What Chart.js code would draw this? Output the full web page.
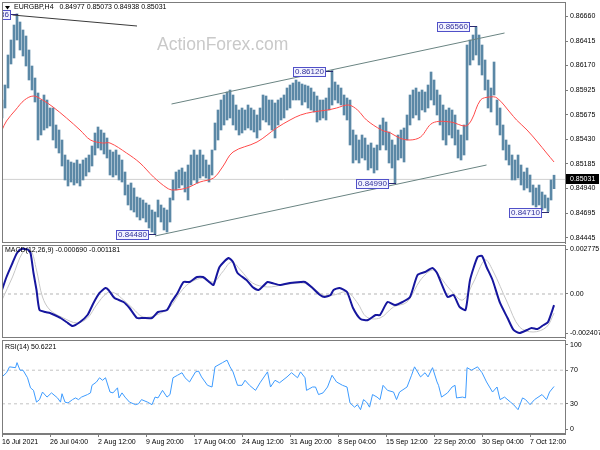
<!DOCTYPE html>
<html>
<head>
<meta charset="utf-8">
<title>EURGBP H4</title>
<script src="https://cdn.jsdelivr.net/npm/chart.js@4/dist/chart.umd.min.js"></script>
<style>
  html, body { margin: 0; padding: 0; background: #fff; }
  #wrap { position: relative; width: 600px; height: 450px; overflow: hidden; }
  canvas { position: absolute; left: 0; }
</style>
</head>
<body>
<div id="wrap">
  <canvas id="c-price" width="600" height="244" style="top:0px"></canvas>
  <canvas id="c-macd" width="600" height="95" style="top:244px"></canvas>
  <canvas id="c-rsi" width="600" height="111" style="top:339px"></canvas>
</div>
<script>
/* EURGBP H4 – price bars + SMA, MACD, RSI */
(() => {
  "use strict";

  // ---- data ----
  const SYMBOL = "EURGBP,H4";
  const LAST_BAR = [0.84977, 0.85073, 0.84938, 0.85031]; // O H L C
  const BARS_PER_SAMPLE = 2; // every drawn bar covers two H4 periods

  const HIGH = [
    0.85825, 0.85975, 0.86275, 0.86425, 0.86575, 0.86686, 0.86605, 0.86525, 0.86465, 0.86325,
    0.86165, 0.86045, 0.85895, 0.85825, 0.85875, 0.85825, 0.85745, 0.85745, 0.85575, 0.85525,
    0.85425, 0.85275, 0.85225, 0.85205, 0.85195, 0.85225, 0.85185, 0.85225, 0.85245, 0.85275,
    0.85365, 0.85495, 0.85555, 0.85525, 0.85495, 0.85445, 0.85325, 0.85305, 0.85325, 0.85275,
    0.85225, 0.85105, 0.84975, 0.84995, 0.84945, 0.84855, 0.84845, 0.84825, 0.84795, 0.84775,
    0.84725, 0.84705, 0.84825, 0.84775, 0.84745, 0.84725, 0.84845, 0.85025, 0.85105, 0.85125,
    0.85145, 0.85105, 0.85175, 0.85275, 0.85325, 0.85275, 0.85325, 0.85275, 0.85225, 0.85175,
    0.85325, 0.85595, 0.85725, 0.85825, 0.85875, 0.85905, 0.85925, 0.85875, 0.85775, 0.85725,
    0.85745, 0.85725, 0.85775, 0.85745, 0.85725, 0.85675, 0.85745, 0.85875, 0.85865, 0.85825,
    0.85825, 0.85795, 0.85825, 0.85845, 0.85875, 0.85945, 0.85975, 0.85995, 0.86025, 0.86005,
    0.85985, 0.85975, 0.85965, 0.85945, 0.85905, 0.85865, 0.85825, 0.85825, 0.85845, 0.85945,
    0.86120, 0.86005, 0.85975, 0.85945, 0.85875, 0.85845, 0.85825, 0.85525, 0.85475, 0.85425,
    0.85475, 0.85445, 0.85375, 0.85395, 0.85345, 0.85375, 0.85575, 0.85645, 0.85605, 0.85505,
    0.85425, 0.85375, 0.85475, 0.85525, 0.85545, 0.85675, 0.85875, 0.85925, 0.85945, 0.85905,
    0.85925, 0.85905, 0.85975, 0.86105, 0.86025, 0.85925, 0.85875, 0.85775, 0.85725, 0.85745,
    0.85725, 0.85675, 0.85525, 0.85475, 0.85575, 0.86375, 0.86425, 0.86475, 0.86560, 0.86475,
    0.86375, 0.86225, 0.86025, 0.85945, 0.86205, 0.85825, 0.85745, 0.85575, 0.85425, 0.85375,
    0.85275, 0.85225, 0.85275, 0.85175, 0.85105, 0.85145, 0.85075, 0.84975, 0.84945, 0.84975,
    0.84905, 0.84875, 0.84845, 0.85025, 0.85073
  ];
  const LOW = [
    0.85645, 0.85745, 0.85945, 0.86185, 0.86245, 0.86425, 0.86325, 0.86265, 0.86165, 0.86025,
    0.85925, 0.85805, 0.85425, 0.85475, 0.85525, 0.85545, 0.85565, 0.85425, 0.85345, 0.85295,
    0.85165, 0.85025, 0.84965, 0.85005, 0.84975, 0.84995, 0.84965, 0.85025, 0.85065, 0.85105,
    0.85165, 0.85275, 0.85345, 0.85325, 0.85285, 0.85245, 0.85075, 0.85055, 0.85075, 0.85025,
    0.85005, 0.84875, 0.84775, 0.84725, 0.84705, 0.84655, 0.84625, 0.84645, 0.84605, 0.84545,
    0.84505, 0.84480, 0.84655, 0.84605, 0.84525, 0.84505, 0.84605, 0.84825, 0.84925, 0.84945,
    0.84975, 0.84905, 0.84825, 0.84975, 0.85025, 0.84995, 0.85045, 0.85065, 0.85045, 0.85005,
    0.85075, 0.85325, 0.85425, 0.85525, 0.85575, 0.85625, 0.85645, 0.85575, 0.85525, 0.85475,
    0.85495, 0.85525, 0.85545, 0.85525, 0.85505, 0.85445, 0.85525, 0.85625, 0.85605, 0.85575,
    0.85525, 0.85445, 0.85575, 0.85625, 0.85645, 0.85725, 0.85745, 0.85825, 0.85825, 0.85825,
    0.85775, 0.85805, 0.85745, 0.85725, 0.85705, 0.85605, 0.85625, 0.85645, 0.85625, 0.85725,
    0.85775, 0.85825, 0.85795, 0.85775, 0.85675, 0.85625, 0.85375, 0.85195, 0.85225, 0.85195,
    0.85245, 0.85225, 0.85125, 0.85145, 0.85095, 0.85125, 0.85325, 0.85375, 0.85325, 0.85195,
    0.85145, 0.84990, 0.85225, 0.85245, 0.85205, 0.85425, 0.85575, 0.85645, 0.85675, 0.85625,
    0.85725, 0.85705, 0.85745, 0.85825, 0.85775, 0.85675, 0.85575, 0.85425, 0.85375, 0.85475,
    0.85445, 0.85375, 0.85245, 0.85225, 0.85275, 0.85425, 0.86175, 0.86225, 0.86275, 0.86175,
    0.86075, 0.85925, 0.85745, 0.85705, 0.85875, 0.85575, 0.85475, 0.85325, 0.85225, 0.85175,
    0.85025, 0.85025, 0.85045, 0.84975, 0.84925, 0.84945, 0.84905, 0.84775, 0.84755, 0.84775,
    0.84725, 0.84745, 0.84710, 0.84825, 0.84938
  ];

  // moving average (red), by H4 bar index
  const MA_IDX = [0, 3, 9, 15, 21, 27, 34, 43, 52, 59, 67, 72, 83, 92, 101, 110, 114, 123, 132, 141,
    147, 154, 170, 183, 192, 199, 207, 217, 223, 231, 237, 243, 253, 259, 265, 272, 279, 287, 299, 309,
    313, 319, 325, 330, 339, 343, 350, 357, 363, 368];
  const MA_VAL = [0.85525, 0.85615, 0.85725, 0.85825, 0.85865, 0.85825, 0.85755, 0.85645, 0.85525, 0.85425,
    0.85395, 0.85395, 0.85295, 0.85195, 0.85055, 0.84945, 0.84925, 0.84945, 0.85005, 0.85045,
    0.85155, 0.85305, 0.85405, 0.85545, 0.85625, 0.85675, 0.85705, 0.85725, 0.85745, 0.85775,
    0.85725, 0.85625, 0.85525, 0.85495, 0.85445, 0.85425, 0.85455, 0.85595, 0.85605, 0.85565,
    0.85625, 0.85825, 0.85855, 0.85845, 0.85695, 0.85625, 0.85525, 0.85405, 0.85295, 0.85205];

  // trend lines and marked extremes
  const TL_TOP_IDX = [7, 90], TL_TOP_PRICE = [0.86675, 0.86565];
  const CH_UP_IDX = [113, 335], CH_UP_PRICE = [0.85785, 0.86495];
  const CH_DN_IDX = [102, 323], CH_DN_PRICE = [0.84465, 0.85175];
  const PEAK_IDX = [10, 102, 220, 262, 316, 364];
  const PEAK_PRICE = [0.86686, 0.84480, 0.86120, 0.84990, 0.86560, 0.84710];
  const PRICE_TICKS = [0.86660, 0.86415, 0.86170, 0.85925, 0.85675, 0.85430, 0.85185, 0.84940, 0.84695, 0.84445];

  // MACD(12,26,9)
  const MACD_IDX = [0, 3, 7, 10, 13, 17, 19, 21, 23, 25, 29, 32, 35, 39, 43, 47, 52, 57, 61, 65,
    69, 71, 75, 81, 85, 90, 94, 100, 104, 110, 113, 117, 121, 125, 130, 134, 139, 141, 145, 151,
    154, 157, 163, 167, 171, 177, 180, 185, 192, 199, 202, 207, 212, 215, 219, 221, 225, 230, 234, 239,
    244, 249, 252, 257, 262, 267, 272, 277, 282, 287, 290, 297, 301, 305, 309, 312, 317, 320, 323, 327,
    332, 337, 341, 345, 350, 353, 357, 361, 364, 368];
  const MACD_VAL = [0.000247, 0.001049, 0.001913, 0.002530, 0.002775, 0.002750, 0.002530, 0.001296, 0.000247, -0.000987,
    -0.001111, -0.001172, -0.001296, -0.001481, -0.001728, -0.001974, -0.001728, -0.001296, -0.000555, 0.000062,
    0.000370, 0.000247, -0.000247, -0.000494, -0.000864, -0.001481, -0.001481, -0.001481, -0.001111, -0.000987,
    -0.000494, 0.000062, 0.000740, 0.000740, 0.001049, 0.001049, 0.000679, 0.000555, 0.001666, 0.002221,
    0.001974, 0.001296, 0.000864, 0.000432, 0.000247, 0.000740, 0.000679, 0.000555, 0.000679, 0.000740,
    0.000740, 0.000370, -0.000062, -0.000185, -0.000062, 0.000247, 0.000370, 0.000123, -0.000864, -0.001543,
    -0.001604, -0.001296, -0.001296, -0.000494, -0.000679, -0.000494, -0.000185, 0.001172, 0.001357, 0.001604,
    0.001296, -0.000185, -0.000062, -0.000802, -0.000987, 0.000864, 0.002283, 0.002345, 0.001666, 0.000864,
    -0.000555, -0.001481, -0.002221, -0.002407, -0.002221, -0.002098, -0.002160, -0.001913, -0.001728, -0.000690];
  const SIGNAL_IDX = [0, 7, 14, 19, 23, 27, 32, 41, 50, 57, 63, 70, 75, 81, 87, 94, 103, 112, 119, 125,
    134, 141, 147, 153, 159, 167, 177, 187, 199, 205, 214, 221, 230, 237, 243, 252, 261, 270, 279, 287,
    292, 299, 307, 314, 322, 327, 337, 345, 354, 363, 368];
  const SIGNAL_VAL = [-0.000370, 0.001049, 0.002591, 0.002715, 0.001481, -0.000185, -0.000987, -0.001481, -0.001789, -0.001481,
    -0.000679, 0.000062, 0.000062, -0.000370, -0.000864, -0.001419, -0.001296, -0.000802, 0.000123, 0.000679,
    0.000987, 0.000740, 0.001357, 0.001974, 0.001481, 0.000679, 0.000432, 0.000555, 0.000679, 0.000555,
    -0.000062, -0.000062, 0.000123, -0.000555, -0.001419, -0.001481, -0.000802, -0.000494, 0.000864, 0.001481,
    0.001049, 0.000247, -0.000370, 0.000679, 0.002098, 0.001481, -0.000555, -0.002036, -0.002345, -0.002036,
    -0.001181];
  const MACD_TICKS = [0.002775, 0, -0.002407];

  // RSI(14)
  const RSI_IDX = [0, 3, 5, 9, 10, 12, 14, 17, 19, 21, 23, 25, 27, 30, 33, 37, 39, 40, 42, 44,
    47, 49, 51, 53, 57, 59, 60, 63, 65, 67, 69, 72, 74, 77, 78, 80, 82, 85, 89, 91,
    93, 97, 100, 102, 104, 107, 110, 112, 114, 117, 120, 122, 125, 129, 131, 133, 137, 140, 142, 147,
    150, 152, 154, 157, 160, 162, 165, 169, 172, 177, 179, 182, 185, 190, 193, 197, 199, 202, 203, 207,
    209, 211, 214, 217, 220, 223, 227, 230, 232, 235, 237, 239, 241, 243, 245, 247, 250, 252, 254, 257,
    261, 263, 265, 270, 273, 275, 279, 282, 284, 287, 290, 291, 293, 297, 300, 302, 303, 307, 309, 310,
    313, 317, 320, 323, 327, 330, 332, 335, 339, 341, 344, 347, 349, 352, 355, 360, 363, 365, 368];
  const RSI_VAL = [62, 67, 74, 73, 79, 70, 70, 61, 49, 46, 32, 35, 44, 38, 43, 37, 32, 42, 32, 31,
    35, 37, 35, 38, 41, 43, 52, 56, 61, 58, 61, 44, 43, 49, 37, 43, 38, 32, 29, 30,
    35, 32, 29, 38, 37, 46, 38, 41, 61, 64, 67, 61, 56, 68, 69, 62, 52, 50, 74, 79,
    82, 74, 68, 52, 52, 58, 52, 46, 55, 68, 50, 58, 55, 62, 67, 61, 68, 61, 46, 50,
    50, 41, 43, 50, 64, 56, 52, 50, 31, 26, 29, 23, 35, 32, 26, 41, 38, 35, 52, 46,
    44, 35, 44, 50, 64, 74, 62, 67, 62, 73, 56, 52, 38, 43, 50, 52, 37, 38, 37, 73,
    70, 74, 67, 56, 44, 50, 35, 38, 32, 29, 23, 37, 35, 29, 35, 41, 35, 44, 50.6221];
  const RSI_LEVELS = [70, 30];
  const RSI_TICKS = [100, 70, 30, 0];

  const TIME_IDX = [0, 32, 64, 96, 128, 160, 192, 224, 256, 288, 320, 352];
  const TIME_LABELS = ["16 Jul 2021", "26 Jul 04:00", "2 Aug 12:00", "9 Aug 20:00", "17 Aug 04:00",
    "24 Aug 12:00", "31 Aug 20:00", "8 Sep 04:00", "15 Sep 12:00", "22 Sep 20:00", "30 Sep 04:00", "7 Oct 12:00"];

  // ---- look ----
  const FONT = '"Liberation Sans", Arial, sans-serif';
  const FRAME = "#7c7c7c";
  const X_MIN = 0, X_MAX = 375.3;
  Chart.defaults.font.family = FONT;
  Chart.defaults.font.size = 7;
  Chart.defaults.color = "#000";

  const pts = (xs, ys) => xs.map((x, i) => ({ x, y: ys[i] }));
  const hline = (v) => [{ x: X_MIN, y: v }, { x: X_MAX, y: v }];
  const line = (data, color, width, extra = {}) => Object.assign({
    type: "line", data, borderColor: color, borderWidth: width, pointRadius: 0, fill: false, tension: 0,
  }, extra);

  function rightAxis(min, max, ticks, fmt) {
    return {
      type: "linear", position: "right", min, max,
      afterBuildTicks: (s) => { s.ticks = ticks.map((v) => ({ value: v })); },
      afterFit: (s) => { s.width = 35; s.paddingTop = 0; s.paddingBottom = 0; },
      grid: { drawOnChartArea: false, drawTicks: true, tickLength: 3, color: FRAME },
      border: { color: FRAME },
      ticks: { padding: 2, autoSkip: false, callback: fmt },
    };
  }
  const hiddenX = { type: "linear", min: X_MIN, max: X_MAX, offset: false, display: false };

  const frame = {
    id: "frame",
    afterDraw(chart) {
      const { ctx, chartArea: a } = chart;
      ctx.save();
      ctx.strokeStyle = FRAME;
      ctx.lineWidth = 1;
      ctx.strokeRect(a.left + 0.5, a.top + 0.5, a.right - a.left, a.bottom - a.top - 1);
      ctx.restore();
    },
  };
  const title = (text, y, arrow) => ({
    id: "title",
    afterDraw(chart) {
      const ctx = chart.ctx;
      ctx.save();
      ctx.fillStyle = "#000";
      ctx.font = "7px " + FONT;
      ctx.textBaseline = "middle";
      let x = 5;
      if (arrow) {
        ctx.beginPath(); ctx.moveTo(5, 6); ctx.lineTo(10, 6); ctx.lineTo(7.5, 9.5); ctx.closePath(); ctx.fill();
        x = 14;
      }
      ctx.fillText(text, x, y);
      ctx.restore();
    },
  });

  const watermark = {
    id: "watermark",
    beforeDatasetsDraw(chart) {
      const ctx = chart.ctx;
      ctx.save();
      ctx.fillStyle = "#c9c9c9";
      ctx.font = "17.5px " + FONT;
      ctx.fillText("ActionForex.com", 157, 50);
      ctx.restore();
    },
  };

  const peakLabels = {
    id: "peakLabels",
    afterDatasetsDraw(chart) {
      const { ctx, chartArea: a, scales: { x, y } } = chart;
      ctx.save();
      ctx.beginPath(); ctx.rect(a.left, a.top, a.width, a.height); ctx.clip();
      ctx.font = "8px " + FONT;
      ctx.textBaseline = "middle";
      ctx.lineWidth = 1;
      PEAK_IDX.forEach((idx, i) => {
        const text = PEAK_PRICE[i].toFixed(5);
        const px = Math.round(x.getPixelForValue(idx));
        const py = Math.round(y.getPixelForValue(PEAK_PRICE[i]));
        const w = Math.round(ctx.measureText(text).width) + 4;
        const right = px - 6, top = py - 4;
        ctx.fillStyle = "#f3f3ff";
        ctx.fillRect(right - w, top, w, 10);
        ctx.strokeStyle = "#5050c8";
        ctx.strokeRect(right - w + 0.5, top + 0.5, w - 1, 9);
        ctx.strokeStyle = "#2a2a70";
        ctx.beginPath(); ctx.moveTo(right, py + 0.5); ctx.lineTo(px + 1, py + 0.5); ctx.stroke();
        ctx.fillStyle = "#30309a";
        ctx.fillText(text, right - w + 2, top + 5);
      });
      ctx.restore();
    },
  };

  const priceTag = {
    id: "priceTag",
    afterDraw(chart) {
      const { ctx, chartArea: a, scales: { y } } = chart;
      const py = Math.round(y.getPixelForValue(LAST_BAR[3]));
      ctx.save();
      ctx.fillStyle = "#000";
      ctx.fillRect(a.right + 1, py - 5, 33, 10);
      ctx.fillStyle = "#fff";
      ctx.font = "7px " + FONT;
      ctx.textBaseline = "middle";
      ctx.fillText(LAST_BAR[3].toFixed(5), a.right + 5, py);
      ctx.restore();
    },
  };

  const base = {
    responsive: false, animation: false, events: [],
    plugins: { legend: { display: false }, tooltip: { enabled: false } },
  };

  // ---- price pane ----
  new Chart(document.getElementById("c-price"), {
    data: {
      datasets: [
        line(hline(LAST_BAR[3]), "#d0d0d0", 1, { order: 4 }),
        {
          type: "bar", order: 3,
          data: HIGH.map((h, i) => ({ x: i * BARS_PER_SAMPLE, y: [LOW[i], h] })),
          backgroundColor: "#5b88a6", barThickness: 2, borderWidth: 0,
        },
        line(pts(MA_IDX, MA_VAL), "#ff4a4a", 1, { tension: 0.35, order: 2 }),
        line(pts(TL_TOP_IDX, TL_TOP_PRICE), "#3a3a3a", 1, { order: 1 }),
        line(pts(CH_UP_IDX, CH_UP_PRICE), "#6a8482", 1, { order: 1 }),
        line(pts(CH_DN_IDX, CH_DN_PRICE), "#6a8482", 1, { order: 1 }),
      ],
    },
    options: Object.assign({}, base, {
      layout: { padding: { top: 2, bottom: 1, left: 2, right: 0 } },
      scales: {
        x: hiddenX,
        y: rightAxis(0.84395, 0.86805, PRICE_TICKS, (v) => v.toFixed(5)),
      },
    }),
    plugins: [watermark, peakLabels, frame, priceTag,
      title(SYMBOL + "   " + LAST_BAR.map((v) => v.toFixed(5)).join(" "), 7.5, true)],
  });

  // ---- MACD pane ----
  new Chart(document.getElementById("c-macd"), {
    data: {
      datasets: [
        line(hline(0), "#b4b4b4", 1, { borderDash: [3, 3], order: 3 }),
        line(pts(SIGNAL_IDX, SIGNAL_VAL), "#c6c6c6", 1, { tension: 0.35, order: 2 }),
        line(pts(MACD_IDX, MACD_VAL), "#16169e", 2, { tension: 0.2, order: 1 }),
      ],
    },
    options: Object.assign({}, base, {
      layout: { padding: { top: 1, bottom: 1, left: 2, right: 0 } },
      scales: {
        x: hiddenX,
        y: rightAxis(-0.002715, 0.003023, MACD_TICKS, (v) => (v === 0 ? "0.00" : v.toFixed(6))),
      },
    }),
    plugins: [frame, title("MACD(12,26,9) " + MACD_VAL[MACD_VAL.length - 1].toFixed(6) + " " +
      SIGNAL_VAL[SIGNAL_VAL.length - 1].toFixed(6), 6, false)],
  });

  // ---- RSI pane ----
  new Chart(document.getElementById("c-rsi"), {
    data: {
      datasets: [
        ...RSI_LEVELS.map((lv) => line(hline(lv), "#c4c4c4", 1, { borderDash: [3, 3], order: 2 })),
        line(pts(RSI_IDX, RSI_VAL), "#3d9bff", 1, { order: 1 }),
      ],
    },
    options: Object.assign({}, base, {
      layout: { padding: { top: 1, bottom: 0, left: 2, right: 0 } },
      scales: {
        x: {
          type: "linear", position: "bottom", min: X_MIN, max: X_MAX, offset: false,
          afterBuildTicks: (s) => { s.ticks = TIME_IDX.map((v) => ({ value: v })); },
          afterFit: (s) => { s.height = 16; s.paddingLeft = 0; s.paddingRight = 0; },
          grid: { drawOnChartArea: false, drawTicks: true, tickLength: 3, color: FRAME },
          border: { color: FRAME },
          ticks: {
            align: "start", padding: 1, maxRotation: 0, autoSkip: false,
            callback: (v) => TIME_LABELS[TIME_IDX.indexOf(v)],
          },
        },
        y: rightAxis(-5.95, 105.95, RSI_TICKS, (v) => String(v)),
      },
    }),
    plugins: [frame, title("RSI(14) " + RSI_VAL[RSI_VAL.length - 1].toFixed(4), 8.5, false)],
  });
})();
</script>
</body>
</html>
